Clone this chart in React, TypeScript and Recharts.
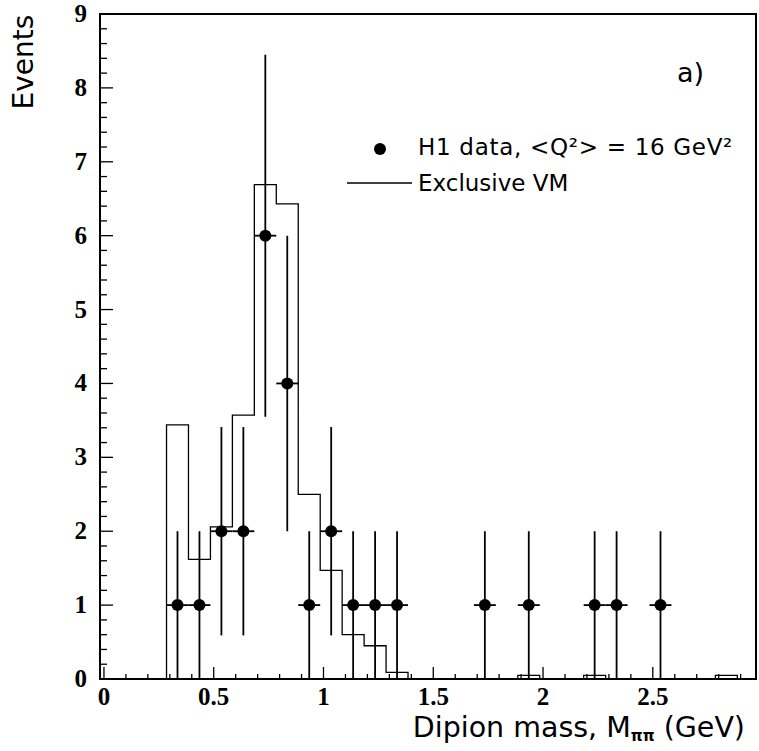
import React from 'react';
import {
  ComposedChart,
  Line,
  Scatter,
  ErrorBar,
  XAxis,
  YAxis,
  ReferenceArea
} from 'recharts';

// H1 data points (bin centres, events, errors)
const massBins = [0.335, 0.435, 0.535, 0.635, 0.735, 0.835, 0.935, 1.035, 1.135, 1.235, 1.335, 1.735, 1.935, 2.235, 2.335, 2.535];
const events = [1, 1, 2, 2, 6, 4, 1, 2, 1, 1, 1, 1, 1, 1, 1, 1];
const eventErrors = [1, 1, 1.41, 1.41, 2.45, 2, 1, 1.41, 1, 1, 1, 1, 1, 1, 1, 1];
const halfBin = 0.05;

// Exclusive VM prediction histogram (lower bin edges, contents)
const vmBinLow = [0.285, 0.385, 0.485, 0.585, 0.685, 0.785, 0.885, 0.985, 1.085, 1.185, 1.285, 1.385, 1.485, 1.585, 1.685, 1.785, 1.885, 1.985, 2.085, 2.185, 2.285, 2.385, 2.485, 2.585, 2.685, 2.785];
const vmValues = [3.44, 1.62, 2.06, 3.57, 6.69, 6.43, 2.5, 1.47, 0.6, 0.45, 0.09, 0, 0, 0, 0, 0, 0.05, 0, 0, 0.05, 0, 0, 0, 0, 0, 0.05];
const binWidth = 0.1;

const xTickLabels = ['0', '0.5', '1', '1.5', '2', '2.5'];
const yTickLabels = ['0', '1', '2', '3', '4', '5', '6', '7', '8', '9'];

const X_MIN = -0.018;
const X_MAX = 2.97;

const points = massBins.map((m, i) => ({ x: m, y: events[i], ey: eventErrors[i], ex: halfBin }));

const histo = [
  { x: vmBinLow[0], y: 0 },
  ...vmBinLow.map((lo, i) => ({ x: lo, y: vmValues[i] })),
  { x: vmBinLow[vmBinLow.length - 1] + binWidth, y: 0 }
];

const xTicks: number[] = [];
for (let i = 0; i <= 29; i++) xTicks.push(Math.round(i * 10) / 100);
const yTicks: number[] = [];
for (let i = 0; i <= 45; i++) yTicks.push(Math.round(i * 20) / 100);

const tickStyle: React.CSSProperties = {
  fontFamily: '"Liberation Serif", "Times New Roman", serif',
  fontWeight: 700,
  fontSize: 25
};
const sansFont = '"DejaVu Sans", sans-serif';

const XTick = (props: any) => {
  const { x, y, payload } = props;
  const v = payload.value;
  const major = Math.abs(v * 2 - Math.round(v * 2)) < 1e-6;
  const label = major ? xTickLabels[Math.round(v * 2)] : null;
  return (
    <g>
      <line x1={x} x2={x} y1={y} y2={y - (major ? 12 : 5)} stroke="#000" strokeWidth={1.3} />
      {label && (
        <text x={x} y={y + 26} textAnchor="middle" style={tickStyle} fill="#000">
          {label}
        </text>
      )}
    </g>
  );
};

const YTick = (props: any) => {
  const { x, y, payload } = props;
  const v = payload.value;
  const major = Math.abs(v - Math.round(v)) < 1e-6;
  return (
    <g>
      <line x1={x} x2={x + (major ? 13 : 7)} y1={y} y2={y} stroke="#000" strokeWidth={1.3} />
      {major && (
        <text x={x - 13} y={y + 8} textAnchor="end" style={tickStyle} fill="#000">
          {yTickLabels[Math.round(v)]}
        </text>
      )}
    </g>
  );
};

const Dot = (props: any) => <circle cx={props.cx} cy={props.cy} r={6} fill="#000" />;

export default function App() {
  return (
    <div style={{ position: 'absolute', left: 0, top: 0, width: 759, height: 751, background: '#fff' }}>
      <ComposedChart width={759} height={751} margin={{ top: 14, right: 3, bottom: 0, left: 0 }}>
        <XAxis
          type="number"
          dataKey="x"
          domain={[X_MIN, X_MAX]}
          ticks={xTicks}
          allowDataOverflow
          height={72}
          tickSize={0}
          tickMargin={0}
          tickLine={false}
          axisLine={{ stroke: '#000', strokeWidth: 2 }}
          tick={<XTick />}
          interval={0}
        />
        <YAxis
          type="number"
          domain={[0, 9]}
          ticks={yTicks}
          allowDataOverflow
          width={100}
          tickSize={0}
          tickMargin={0}
          tickLine={false}
          axisLine={{ stroke: '#000', strokeWidth: 2 }}
          tick={<YTick />}
          interval={0}
        />
        <ReferenceArea x1={X_MIN} x2={X_MAX} y1={0} y2={9} fill="none" stroke="#000" strokeWidth={2} />
        <Line
          data={histo}
          dataKey="y"
          type="stepAfter"
          stroke="#000"
          strokeWidth={1.3}
          dot={false}
          isAnimationActive={false}
        />
        <Scatter data={points} dataKey="y" shape={<Dot />} isAnimationActive={false}>
          <ErrorBar dataKey="ey" direction="y" width={0} stroke="#000" strokeWidth={1.8} />
          <ErrorBar dataKey="ex" direction="x" width={0} stroke="#000" strokeWidth={1.8} />
        </Scatter>
      </ComposedChart>
      <svg width={759} height={751} style={{ position: 'absolute', left: 0, top: 0, pointerEvents: 'none' }}>
        <text transform="translate(33,62) rotate(-90)" textAnchor="middle" fontFamily={sansFont} fontSize={28} fill="#000">
          Events
        </text>
        <text x={745} y={737} textAnchor="end" fontFamily={sansFont} fontSize={28.5} fill="#000">
          Dipion mass, M
          <tspan fontSize={15} fontWeight="bold" dy={4}>ππ</tspan>
          <tspan dy={-4}> (GeV)</tspan>
        </text>
        <text x={677} y={82} fontFamily={sansFont} fontSize={27} fill="#000">a)</text>
        <circle cx={380} cy={149} r={6} fill="#000" />
        <text x={418} y={155} fontFamily={sansFont} fontSize={23} letterSpacing={0.7} fill="#000">
          H1 data, &lt;Q²&gt; = 16 GeV²
        </text>
        <line x1={347} x2={412} y1={183} y2={183} stroke="#000" strokeWidth={1.3} />
        <text x={418} y={191} fontFamily={sansFont} fontSize={23} fill="#000">Exclusive VM</text>
      </svg>
    </div>
  );
}
